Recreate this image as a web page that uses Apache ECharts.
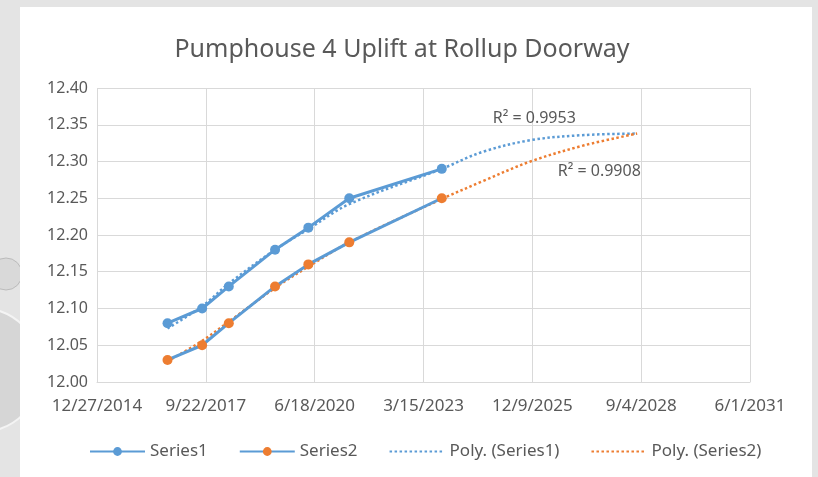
<!DOCTYPE html>
<html>
<head>
<meta charset="utf-8">
<script src="https://cdn.jsdelivr.net/npm/echarts@6/dist/echarts.min.js"></script>
<style>
  html, body { margin: 0; padding: 0; }
  #chart { width: 818px; height: 477px; }
</style>
</head>
<body>
<div id="chart"></div>
<script>
// measurement dates (shared by both series)
const dates = ['2016-10-05', '2017-08-19', '2018-04-21', '2019-06-20', '2020-04-21', '2021-05-02', '2023-08-30'];
const series1 = [12.08, 12.10, 12.13, 12.18, 12.21, 12.25, 12.29];
const series2 = [12.03, 12.05, 12.08, 12.13, 12.16, 12.19, 12.25];

// poly trend lines (incl. forecast)
const trendDates = ['2016-10-05', '2017-08-19', '2018-04-21', '2019-06-20', '2020-04-21', '2021-05-02', '2023-08-30', '2024-09-06', '2025-11-21', '2027-03-31', '2028-07-29'];
const trend1 = [12.073, 12.103, 12.134, 12.180, 12.208, 12.242, 12.290, 12.313, 12.329, 12.336, 12.338];
const trend2 = [12.028, 12.056, 12.082, 12.128, 12.157, 12.190, 12.249, 12.273, 12.300, 12.322, 12.338];

const r2Labels = ['R² = 0.9953', 'R² = 0.9908'];
const r2Pos = [[46018, 12.359], [46615, 12.286]];

// x axis runs in excel day serials, ticks every 1000 days
const xTickLabels = ['12/27/2014', '9/22/2017', '6/18/2020', '3/15/2023', '12/9/2025', '9/4/2028', '6/1/2031'];
const xMin = 42000, xMax = 48000, xStep = 1000;

function serial(s) {
  const p = s.split('-').map(Number);
  return (Date.UTC(p[0], p[1] - 1, p[2]) - Date.UTC(1899, 11, 30)) / 86400000;
}
function pairs(ds, vs) {
  return ds.map((d, i) => [serial(d), vs[i]]);
}

const blue = '#5B9BD5';
const orange = '#ED7D31';
const textColor = '#595959';
const font = 'Noto Sans';

const myChart = echarts.init(document.getElementById('chart'));

let option = {
  backgroundColor: '#e4e4e4',
  animation: false,
  textStyle: { fontFamily: font },
  graphic: [
    { type: 'circle', shape: { cx: -20, cy: 370, r: 62 }, style: { fill: '#d6d6d6', stroke: '#f4f4f4', lineWidth: 2 }, z: -12 },
    { type: 'circle', shape: { cx: 6, cy: 274, r: 16 }, style: { fill: '#d9d9d9', stroke: '#bbbbbb', lineWidth: 1 }, z: -11 },
    { type: 'rect', shape: { x: 20, y: 7, width: 792, height: 480 }, style: { fill: '#ffffff' }, z: -10 },
  ],
  title: {
    text: 'Pumphouse 4 Uplift at Rollup Doorway',
    left: 397,
    textAlign: 'center',
    top: 32,
    textStyle: { fontFamily: font, fontSize: 25, fontWeight: 'normal', color: textColor },
  },
  grid: { left: 97, right: 68, top: 88, bottom: 95 },
  legend: {
    left: 84,
    top: 438,
    itemWidth: 55,
    itemHeight: 11,
    itemGap: 31,
    textStyle: { fontFamily: font, fontSize: 17, color: textColor },
    data: [
      'Series1',
      'Series2',
      { name: 'Poly. (Series1)', itemStyle: { opacity: 0 } },
      { name: 'Poly. (Series2)', itemStyle: { opacity: 0 } },
    ],
  },
  xAxis: {
    type: 'value',
    min: xMin,
    max: xMax,
    interval: xStep,
    axisLine: { lineStyle: { color: '#d9d9d9' } },
    axisTick: { show: false },
    splitLine: { lineStyle: { color: '#d9d9d9' } },
    axisLabel: {
      margin: 16,
      fontSize: 17,
      color: textColor,
      formatter: (v) => xTickLabels[Math.round((v - xMin) / xStep)],
    },
  },
  yAxis: {
    type: 'value',
    min: 12.0,
    max: 12.4,
    interval: 0.05,
    axisLine: { show: false },
    axisTick: { show: false },
    splitLine: { lineStyle: { color: '#d9d9d9' } },
    axisLabel: {
      margin: 9,
      fontSize: 16,
      color: textColor,
      formatter: (v) => v.toFixed(2),
    },
  },
  series: [
    {
      name: 'Series1',
      type: 'line',
      data: pairs(dates, series1),
      symbol: 'circle',
      symbolSize: 10,
      lineStyle: { color: blue, width: 3 },
      itemStyle: { color: blue },
      z: 4,
    },
    {
      name: 'Series2',
      type: 'line',
      data: pairs(dates, series2),
      symbol: 'circle',
      symbolSize: 10,
      lineStyle: { color: blue, width: 3 },
      itemStyle: { color: orange },
      z: 4,
    },
    {
      name: 'Poly. (Series1)',
      type: 'line',
      data: pairs(trendDates, trend1),
      smooth: 0.35,
      showSymbol: false,
      symbol: 'none',
      lineStyle: { color: blue, width: 2.5, type: [2.5, 2.5] },
      itemStyle: { color: blue },
      z: 3,
      markPoint: {
        symbol: 'circle',
        symbolSize: 0,
        data: [{ coord: r2Pos[0] }],
        label: { show: true, formatter: r2Labels[0], fontFamily: font, fontSize: 16, color: textColor },
      },
    },
    {
      name: 'Poly. (Series2)',
      type: 'line',
      data: pairs(trendDates, trend2),
      smooth: 0.35,
      showSymbol: false,
      symbol: 'none',
      lineStyle: { color: orange, width: 2.5, type: [2.5, 2.5] },
      itemStyle: { color: orange },
      z: 3,
      markPoint: {
        symbol: 'circle',
        symbolSize: 0,
        data: [{ coord: r2Pos[1] }],
        label: { show: true, formatter: r2Labels[1], fontFamily: font, fontSize: 16, color: textColor },
      },
    },
  ],
};

option && myChart.setOption(option);
</script>
</body>
</html>
